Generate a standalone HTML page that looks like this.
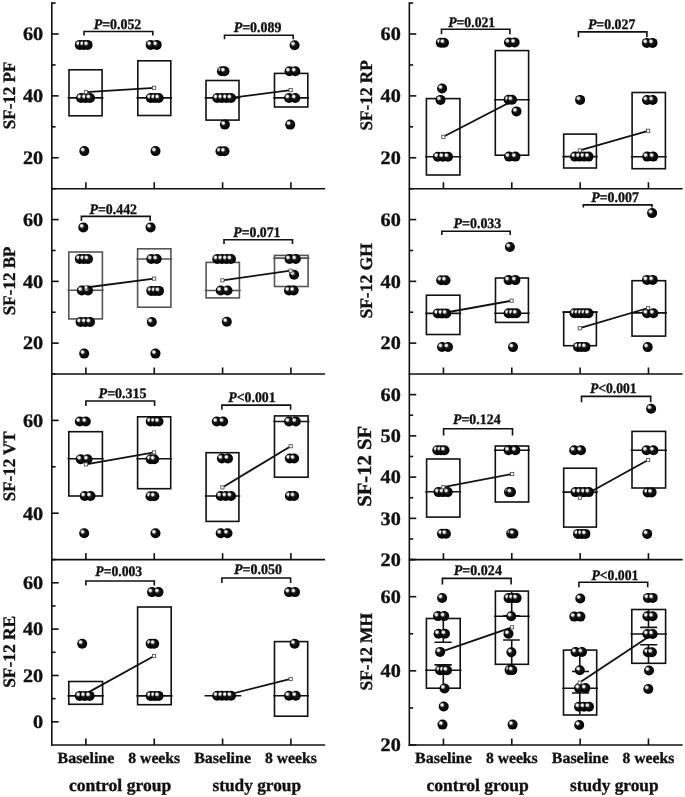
<!DOCTYPE html>
<html><head><meta charset="utf-8"><style>
html,body{margin:0;padding:0;background:#fff;}
svg{display:block;will-change:transform;filter:blur(0.35px);}
text{font-family:"Liberation Serif",serif;font-weight:bold;fill:#111;stroke:#111;stroke-width:0.35px;text-rendering:geometricPrecision;}
</style></head><body>
<svg width="685" height="797" viewBox="0 0 685 797">
<defs>
<radialGradient id="g" cx="0.5" cy="0.5" r="0.5" fx="0.35" fy="0.35">
<stop offset="0" stop-color="#555"/>
<stop offset="0.5" stop-color="#111"/>
<stop offset="1" stop-color="#000"/>
</radialGradient>
<radialGradient id="h" cx="0.5" cy="0.5" r="0.5">
<stop offset="0" stop-color="#fff" stop-opacity="1"/>
<stop offset="0.35" stop-color="#fff" stop-opacity="0.95"/>
<stop offset="1" stop-color="#fff" stop-opacity="0"/>
</radialGradient>
</defs>
<rect width="685" height="797" fill="#fff"/>
<g stroke="#111" stroke-width="1.6" fill="none" stroke-linecap="butt">
<line x1="51.10" y1="188.70" x2="325.10" y2="188.70"/>
<line x1="85.90" y1="188.70" x2="85.90" y2="182.20"/>
<line x1="154.25" y1="188.70" x2="154.25" y2="182.20"/>
<line x1="222.60" y1="188.70" x2="222.60" y2="182.20"/>
<line x1="290.90" y1="188.70" x2="290.90" y2="182.20"/>
<line x1="51.80" y1="157.76" x2="58.70" y2="157.76"/>
<text x="43.20" y="164.06" font-size="19" text-anchor="end" textLength="20.2" lengthAdjust="spacingAndGlyphs" style="">20</text>
<line x1="51.80" y1="95.88" x2="58.70" y2="95.88"/>
<text x="43.20" y="102.18" font-size="19" text-anchor="end" textLength="20.2" lengthAdjust="spacingAndGlyphs" style="">40</text>
<line x1="51.80" y1="34.01" x2="58.70" y2="34.01"/>
<text x="43.20" y="40.31" font-size="19" text-anchor="end" textLength="20.2" lengthAdjust="spacingAndGlyphs" style="">60</text>
<line x1="51.80" y1="126.82" x2="55.60" y2="126.82"/>
<line x1="51.80" y1="64.95" x2="55.60" y2="64.95"/>
<line x1="51.80" y1="3.07" x2="55.60" y2="3.07"/>
<text transform="translate(15.10,95.38) rotate(-90)" font-size="17.5" text-anchor="middle" textLength="67.5" lengthAdjust="spacingAndGlyphs">SF-12 PF</text>
<line x1="51.10" y1="374.00" x2="325.10" y2="374.00"/>
<line x1="85.90" y1="374.00" x2="85.90" y2="367.50"/>
<line x1="154.25" y1="374.00" x2="154.25" y2="367.50"/>
<line x1="222.60" y1="374.00" x2="222.60" y2="367.50"/>
<line x1="290.90" y1="374.00" x2="290.90" y2="367.50"/>
<line x1="51.80" y1="343.12" x2="58.70" y2="343.12"/>
<text x="43.20" y="349.42" font-size="19" text-anchor="end" textLength="20.2" lengthAdjust="spacingAndGlyphs" style="">20</text>
<line x1="51.80" y1="281.35" x2="58.70" y2="281.35"/>
<text x="43.20" y="287.65" font-size="19" text-anchor="end" textLength="20.2" lengthAdjust="spacingAndGlyphs" style="">40</text>
<line x1="51.80" y1="219.58" x2="58.70" y2="219.58"/>
<text x="43.20" y="225.88" font-size="19" text-anchor="end" textLength="20.2" lengthAdjust="spacingAndGlyphs" style="">60</text>
<line x1="51.80" y1="312.23" x2="55.60" y2="312.23"/>
<line x1="51.80" y1="250.47" x2="55.60" y2="250.47"/>
<line x1="51.80" y1="188.70" x2="55.60" y2="188.70"/>
<text transform="translate(15.10,280.85) rotate(-90)" font-size="17.5" text-anchor="middle" textLength="68.7" lengthAdjust="spacingAndGlyphs">SF-12 BP</text>
<line x1="51.10" y1="559.60" x2="325.10" y2="559.60"/>
<line x1="85.90" y1="559.60" x2="85.90" y2="553.10"/>
<line x1="154.25" y1="559.60" x2="154.25" y2="553.10"/>
<line x1="222.60" y1="559.60" x2="222.60" y2="553.10"/>
<line x1="290.90" y1="559.60" x2="290.90" y2="553.10"/>
<line x1="51.80" y1="513.20" x2="58.70" y2="513.20"/>
<text x="43.20" y="519.50" font-size="19" text-anchor="end" textLength="20.2" lengthAdjust="spacingAndGlyphs" style="">40</text>
<line x1="51.80" y1="420.40" x2="58.70" y2="420.40"/>
<text x="43.20" y="426.70" font-size="19" text-anchor="end" textLength="20.2" lengthAdjust="spacingAndGlyphs" style="">60</text>
<line x1="51.80" y1="466.80" x2="55.60" y2="466.80"/>
<line x1="51.80" y1="374.00" x2="55.60" y2="374.00"/>
<text transform="translate(15.10,466.30) rotate(-90)" font-size="17.5" text-anchor="middle" textLength="69.7" lengthAdjust="spacingAndGlyphs">SF-12 VT</text>
<line x1="51.10" y1="745.00" x2="325.10" y2="745.00"/>
<line x1="85.90" y1="745.00" x2="85.90" y2="738.50"/>
<line x1="154.25" y1="745.00" x2="154.25" y2="738.50"/>
<line x1="222.60" y1="745.00" x2="222.60" y2="738.50"/>
<line x1="290.90" y1="745.00" x2="290.90" y2="738.50"/>
<line x1="51.80" y1="721.83" x2="58.70" y2="721.83"/>
<text x="43.20" y="728.12" font-size="19" text-anchor="end" textLength="10.1" lengthAdjust="spacingAndGlyphs" style="">0</text>
<line x1="51.80" y1="675.48" x2="58.70" y2="675.48"/>
<text x="43.20" y="681.77" font-size="19" text-anchor="end" textLength="20.2" lengthAdjust="spacingAndGlyphs" style="">20</text>
<line x1="51.80" y1="629.12" x2="58.70" y2="629.12"/>
<text x="43.20" y="635.42" font-size="19" text-anchor="end" textLength="20.2" lengthAdjust="spacingAndGlyphs" style="">40</text>
<line x1="51.80" y1="582.77" x2="58.70" y2="582.77"/>
<text x="43.20" y="589.07" font-size="19" text-anchor="end" textLength="20.2" lengthAdjust="spacingAndGlyphs" style="">60</text>
<line x1="51.80" y1="698.65" x2="55.60" y2="698.65"/>
<line x1="51.80" y1="652.30" x2="55.60" y2="652.30"/>
<line x1="51.80" y1="605.95" x2="55.60" y2="605.95"/>
<line x1="51.80" y1="559.60" x2="55.60" y2="559.60"/>
<text transform="translate(15.10,651.80) rotate(-90)" font-size="17.5" text-anchor="middle" textLength="72.0" lengthAdjust="spacingAndGlyphs">SF-12 RE</text>
<line x1="408.65" y1="188.70" x2="682.65" y2="188.70"/>
<line x1="443.45" y1="188.70" x2="443.45" y2="182.20"/>
<line x1="511.80" y1="188.70" x2="511.80" y2="182.20"/>
<line x1="580.15" y1="188.70" x2="580.15" y2="182.20"/>
<line x1="648.45" y1="188.70" x2="648.45" y2="182.20"/>
<line x1="409.35" y1="157.76" x2="416.25" y2="157.76"/>
<text x="400.75" y="164.06" font-size="19" text-anchor="end" textLength="20.2" lengthAdjust="spacingAndGlyphs" style="">20</text>
<line x1="409.35" y1="95.88" x2="416.25" y2="95.88"/>
<text x="400.75" y="102.18" font-size="19" text-anchor="end" textLength="20.2" lengthAdjust="spacingAndGlyphs" style="">40</text>
<line x1="409.35" y1="34.01" x2="416.25" y2="34.01"/>
<text x="400.75" y="40.31" font-size="19" text-anchor="end" textLength="20.2" lengthAdjust="spacingAndGlyphs" style="">60</text>
<line x1="409.35" y1="126.82" x2="413.15" y2="126.82"/>
<line x1="409.35" y1="64.95" x2="413.15" y2="64.95"/>
<line x1="409.35" y1="3.07" x2="413.15" y2="3.07"/>
<text transform="translate(372.35,95.38) rotate(-90)" font-size="17.5" text-anchor="middle" textLength="70.2" lengthAdjust="spacingAndGlyphs">SF-12 RP</text>
<line x1="408.65" y1="374.00" x2="682.65" y2="374.00"/>
<line x1="443.45" y1="374.00" x2="443.45" y2="367.50"/>
<line x1="511.80" y1="374.00" x2="511.80" y2="367.50"/>
<line x1="580.15" y1="374.00" x2="580.15" y2="367.50"/>
<line x1="648.45" y1="374.00" x2="648.45" y2="367.50"/>
<line x1="409.35" y1="343.12" x2="416.25" y2="343.12"/>
<text x="400.75" y="349.42" font-size="19" text-anchor="end" textLength="20.2" lengthAdjust="spacingAndGlyphs" style="">20</text>
<line x1="409.35" y1="281.35" x2="416.25" y2="281.35"/>
<text x="400.75" y="287.65" font-size="19" text-anchor="end" textLength="20.2" lengthAdjust="spacingAndGlyphs" style="">40</text>
<line x1="409.35" y1="219.58" x2="416.25" y2="219.58"/>
<text x="400.75" y="225.88" font-size="19" text-anchor="end" textLength="20.2" lengthAdjust="spacingAndGlyphs" style="">60</text>
<line x1="409.35" y1="312.23" x2="413.15" y2="312.23"/>
<line x1="409.35" y1="250.47" x2="413.15" y2="250.47"/>
<line x1="409.35" y1="188.70" x2="413.15" y2="188.70"/>
<text transform="translate(372.35,280.85) rotate(-90)" font-size="17.5" text-anchor="middle" textLength="75.5" lengthAdjust="spacingAndGlyphs">SF-12 GH</text>
<line x1="408.65" y1="559.60" x2="682.65" y2="559.60"/>
<line x1="443.45" y1="559.60" x2="443.45" y2="553.10"/>
<line x1="511.80" y1="559.60" x2="511.80" y2="553.10"/>
<line x1="580.15" y1="559.60" x2="580.15" y2="553.10"/>
<line x1="648.45" y1="559.60" x2="648.45" y2="553.10"/>
<line x1="409.35" y1="559.60" x2="416.25" y2="559.60"/>
<text x="400.75" y="565.90" font-size="19" text-anchor="end" textLength="20.2" lengthAdjust="spacingAndGlyphs" style="">20</text>
<line x1="409.35" y1="518.36" x2="416.25" y2="518.36"/>
<text x="400.75" y="524.66" font-size="19" text-anchor="end" textLength="20.2" lengthAdjust="spacingAndGlyphs" style="">30</text>
<line x1="409.35" y1="477.11" x2="416.25" y2="477.11"/>
<text x="400.75" y="483.41" font-size="19" text-anchor="end" textLength="20.2" lengthAdjust="spacingAndGlyphs" style="">40</text>
<line x1="409.35" y1="435.87" x2="416.25" y2="435.87"/>
<text x="400.75" y="442.17" font-size="19" text-anchor="end" textLength="20.2" lengthAdjust="spacingAndGlyphs" style="">50</text>
<line x1="409.35" y1="394.62" x2="416.25" y2="394.62"/>
<text x="400.75" y="400.92" font-size="19" text-anchor="end" textLength="20.2" lengthAdjust="spacingAndGlyphs" style="">60</text>
<line x1="409.35" y1="538.98" x2="413.15" y2="538.98"/>
<line x1="409.35" y1="497.73" x2="413.15" y2="497.73"/>
<line x1="409.35" y1="456.49" x2="413.15" y2="456.49"/>
<line x1="409.35" y1="415.24" x2="413.15" y2="415.24"/>
<text transform="translate(370.85,466.30) rotate(-90)" font-size="20" text-anchor="middle" textLength="81.0" lengthAdjust="spacingAndGlyphs">SF-12 SF</text>
<line x1="408.65" y1="745.00" x2="682.65" y2="745.00"/>
<line x1="443.45" y1="745.00" x2="443.45" y2="738.50"/>
<line x1="511.80" y1="745.00" x2="511.80" y2="738.50"/>
<line x1="580.15" y1="745.00" x2="580.15" y2="738.50"/>
<line x1="648.45" y1="745.00" x2="648.45" y2="738.50"/>
<line x1="409.35" y1="745.00" x2="416.25" y2="745.00"/>
<text x="400.75" y="751.30" font-size="19" text-anchor="end" textLength="20.2" lengthAdjust="spacingAndGlyphs" style="">20</text>
<line x1="409.35" y1="670.84" x2="416.25" y2="670.84"/>
<text x="400.75" y="677.14" font-size="19" text-anchor="end" textLength="20.2" lengthAdjust="spacingAndGlyphs" style="">40</text>
<line x1="409.35" y1="596.68" x2="416.25" y2="596.68"/>
<text x="400.75" y="602.98" font-size="19" text-anchor="end" textLength="20.2" lengthAdjust="spacingAndGlyphs" style="">60</text>
<line x1="409.35" y1="707.92" x2="413.15" y2="707.92"/>
<line x1="409.35" y1="633.76" x2="413.15" y2="633.76"/>
<line x1="409.35" y1="559.60" x2="413.15" y2="559.60"/>
<text transform="translate(372.35,651.80) rotate(-90)" font-size="17.5" text-anchor="middle" textLength="77.4" lengthAdjust="spacingAndGlyphs">SF-12 MH</text>
<line x1="51.80" y1="2.37" x2="51.80" y2="745.70"/>
<line x1="409.35" y1="2.37" x2="409.35" y2="745.70"/>
<text x="85.90" y="763.10" font-size="15.5" text-anchor="middle" textLength="56.8" lengthAdjust="spacingAndGlyphs" style="">Baseline</text>
<text x="154.25" y="763.10" font-size="15.5" text-anchor="middle" textLength="51.8" lengthAdjust="spacingAndGlyphs" style="">8 weeks</text>
<text x="222.60" y="763.10" font-size="15.5" text-anchor="middle" textLength="56.8" lengthAdjust="spacingAndGlyphs" style="">Baseline</text>
<text x="290.90" y="763.10" font-size="15.5" text-anchor="middle" textLength="51.8" lengthAdjust="spacingAndGlyphs" style="">8 weeks</text>
<text x="120.08" y="790.50" font-size="17.5" text-anchor="middle" textLength="102.3" lengthAdjust="spacingAndGlyphs" style="">control group</text>
<text x="256.75" y="790.50" font-size="17.5" text-anchor="middle" textLength="88.6" lengthAdjust="spacingAndGlyphs" style="">study group</text>
<text x="443.45" y="763.10" font-size="15.5" text-anchor="middle" textLength="56.8" lengthAdjust="spacingAndGlyphs" style="">Baseline</text>
<text x="511.80" y="763.10" font-size="15.5" text-anchor="middle" textLength="51.8" lengthAdjust="spacingAndGlyphs" style="">8 weeks</text>
<text x="580.15" y="763.10" font-size="15.5" text-anchor="middle" textLength="56.8" lengthAdjust="spacingAndGlyphs" style="">Baseline</text>
<text x="648.45" y="763.10" font-size="15.5" text-anchor="middle" textLength="51.8" lengthAdjust="spacingAndGlyphs" style="">8 weeks</text>
<text x="477.62" y="790.50" font-size="17.5" text-anchor="middle" textLength="102.3" lengthAdjust="spacingAndGlyphs" style="">control group</text>
<text x="614.30" y="790.50" font-size="17.5" text-anchor="middle" textLength="88.6" lengthAdjust="spacingAndGlyphs" style="">study group</text>
<rect x="69.00" y="69.80" width="33.10" height="46.00" stroke="#111"/>
<line x1="67.70" y1="97.90" x2="103.40" y2="97.90" stroke="#111"/>
<rect x="137.80" y="60.80" width="33.00" height="54.70" stroke="#111"/>
<line x1="136.50" y1="97.90" x2="172.10" y2="97.90" stroke="#111"/>
<rect x="206.00" y="80.50" width="33.00" height="39.60" stroke="#111"/>
<line x1="204.70" y1="97.90" x2="240.30" y2="97.90" stroke="#111"/>
<rect x="274.50" y="73.40" width="33.30" height="33.60" stroke="#111"/>
<line x1="273.20" y1="97.90" x2="309.10" y2="97.90" stroke="#111"/>
<rect x="68.80" y="252.00" width="33.60" height="66.90" stroke="#555"/>
<line x1="67.50" y1="290.20" x2="103.70" y2="290.20" stroke="#555"/>
<rect x="137.60" y="248.80" width="33.30" height="58.40" stroke="#555"/>
<line x1="136.30" y1="259.00" x2="172.20" y2="259.00" stroke="#555"/>
<rect x="206.10" y="262.40" width="33.30" height="35.50" stroke="#555"/>
<line x1="204.80" y1="290.50" x2="240.70" y2="290.50" stroke="#555"/>
<rect x="274.50" y="255.40" width="33.60" height="31.10" stroke="#555"/>
<line x1="273.20" y1="258.10" x2="309.40" y2="258.10" stroke="#555"/>
<rect x="68.80" y="431.70" width="33.60" height="64.30" stroke="#111"/>
<line x1="67.50" y1="458.80" x2="103.70" y2="458.80" stroke="#111"/>
<rect x="137.60" y="416.80" width="33.10" height="71.90" stroke="#111"/>
<line x1="136.30" y1="458.80" x2="172.00" y2="458.80" stroke="#111"/>
<rect x="206.10" y="452.70" width="32.80" height="68.70" stroke="#111"/>
<line x1="204.80" y1="496.00" x2="240.20" y2="496.00" stroke="#111"/>
<rect x="274.50" y="415.90" width="33.60" height="61.30" stroke="#111"/>
<line x1="273.20" y1="421.50" x2="309.40" y2="421.50" stroke="#111"/>
<rect x="68.80" y="681.50" width="33.80" height="22.80" stroke="#111"/>
<line x1="67.50" y1="695.90" x2="103.90" y2="695.90" stroke="#111"/>
<rect x="137.60" y="607.00" width="33.60" height="97.70" stroke="#111"/>
<line x1="136.30" y1="695.90" x2="172.50" y2="695.90" stroke="#111"/>
<line x1="204.60" y1="695.70" x2="241.30" y2="695.70" stroke="#111"/>
<rect x="274.50" y="641.60" width="33.20" height="74.60" stroke="#111"/>
<line x1="273.20" y1="695.70" x2="309.00" y2="695.70" stroke="#111"/>
<rect x="426.40" y="98.60" width="33.50" height="76.40" stroke="#111"/>
<line x1="425.10" y1="156.70" x2="461.20" y2="156.70" stroke="#111"/>
<rect x="495.30" y="50.60" width="33.30" height="104.60" stroke="#111"/>
<line x1="494.00" y1="99.80" x2="529.90" y2="99.80" stroke="#111"/>
<rect x="563.70" y="134.10" width="32.70" height="33.90" stroke="#111"/>
<line x1="562.40" y1="156.60" x2="597.70" y2="156.60" stroke="#111"/>
<rect x="632.10" y="92.50" width="33.30" height="76.20" stroke="#111"/>
<line x1="630.80" y1="156.70" x2="666.70" y2="156.70" stroke="#111"/>
<rect x="426.40" y="295.20" width="33.50" height="39.30" stroke="#111"/>
<line x1="425.10" y1="313.40" x2="461.20" y2="313.40" stroke="#111"/>
<rect x="495.50" y="278.00" width="32.90" height="44.40" stroke="#111"/>
<line x1="494.20" y1="313.30" x2="529.70" y2="313.30" stroke="#111"/>
<rect x="563.70" y="312.10" width="32.70" height="33.60" stroke="#111"/>
<line x1="562.40" y1="312.10" x2="597.70" y2="312.10" stroke="#111"/>
<rect x="632.00" y="280.70" width="33.60" height="55.40" stroke="#111"/>
<line x1="630.70" y1="312.90" x2="666.90" y2="312.90" stroke="#111"/>
<rect x="426.60" y="459.00" width="33.30" height="58.10" stroke="#111"/>
<line x1="425.30" y1="491.80" x2="461.20" y2="491.80" stroke="#111"/>
<rect x="495.30" y="446.00" width="33.30" height="56.00" stroke="#111"/>
<line x1="494.00" y1="450.30" x2="529.90" y2="450.30" stroke="#111"/>
<rect x="563.70" y="468.20" width="32.70" height="58.90" stroke="#111"/>
<line x1="562.40" y1="492.10" x2="597.70" y2="492.10" stroke="#111"/>
<rect x="632.00" y="431.40" width="33.60" height="56.60" stroke="#111"/>
<line x1="630.70" y1="450.30" x2="666.90" y2="450.30" stroke="#111"/>
<rect x="426.40" y="618.50" width="33.80" height="69.70" stroke="#111"/>
<line x1="425.10" y1="670.30" x2="461.50" y2="670.30" stroke="#111"/>
<rect x="495.40" y="591.10" width="33.00" height="73.20" stroke="#111"/>
<line x1="494.10" y1="616.20" x2="529.70" y2="616.20" stroke="#111"/>
<rect x="563.50" y="650.10" width="33.20" height="64.90" stroke="#111"/>
<line x1="562.20" y1="688.30" x2="598.00" y2="688.30" stroke="#111"/>
<rect x="631.80" y="609.50" width="33.80" height="53.80" stroke="#111"/>
<line x1="630.50" y1="634.00" x2="666.90" y2="634.00" stroke="#111"/>
<path d="M443.30 618.50V642.20M434.50 642.20H451.70M434.50 664.90H451.70M443.30 664.90V688.20"/>
<path d="M511.70 591.10V615.80M503.10 615.80H519.80M503.10 640.00H519.80M511.70 640.00V664.30"/>
<path d="M579.80 650.10V671.50M572.00 671.50H589.00M572.00 693.00H589.00M579.80 693.00V715.00"/>
<path d="M648.50 609.50V627.40M640.20 627.40H657.20M640.20 644.80H657.20M648.50 644.80V663.30"/>
<line x1="85.90" y1="92.20" x2="154.10" y2="87.80" stroke-width="1.8"/>
<line x1="223.00" y1="98.80" x2="290.70" y2="90.10" stroke-width="1.8"/>
<line x1="86.00" y1="287.50" x2="154.10" y2="278.60" stroke-width="1.8"/>
<line x1="222.40" y1="280.30" x2="290.60" y2="270.70" stroke-width="1.8"/>
<line x1="85.90" y1="464.40" x2="154.10" y2="452.40" stroke-width="1.8"/>
<line x1="222.40" y1="487.40" x2="290.70" y2="446.20" stroke-width="1.8"/>
<line x1="86.00" y1="693.60" x2="154.10" y2="656.00" stroke-width="1.8"/>
<line x1="222.80" y1="696.00" x2="290.70" y2="678.90" stroke-width="1.8"/>
<line x1="443.30" y1="136.80" x2="511.60" y2="101.50" stroke-width="1.8"/>
<line x1="579.80" y1="150.40" x2="648.10" y2="130.80" stroke-width="1.8"/>
<line x1="443.20" y1="313.00" x2="511.60" y2="300.70" stroke-width="1.8"/>
<line x1="579.80" y1="328.20" x2="648.10" y2="308.00" stroke-width="1.8"/>
<line x1="443.30" y1="487.20" x2="512.10" y2="474.00" stroke-width="1.8"/>
<line x1="579.80" y1="497.70" x2="648.10" y2="460.00" stroke-width="1.8"/>
<line x1="441.50" y1="651.70" x2="512.00" y2="627.30" stroke-width="1.8"/>
<line x1="579.70" y1="682.60" x2="648.30" y2="637.00" stroke-width="1.8"/>
<polyline points="84.00,35.60 84.00,31.50 152.80,31.50 152.80,35.60"/>
<polyline points="224.50,39.20 224.50,35.30 293.20,35.30 293.20,39.20"/>
<polyline points="81.40,220.90 81.40,216.40 150.20,216.40 150.20,220.90"/>
<polyline points="224.00,244.10 224.00,239.70 292.50,239.70 292.50,244.10"/>
<polyline points="85.90,405.90 85.90,401.00 154.60,401.00 154.60,405.90"/>
<polyline points="221.90,409.80 221.90,405.10 290.60,405.10 290.60,409.80"/>
<polyline points="85.90,585.40 85.90,581.00 154.30,581.00 154.30,585.40"/>
<polyline points="221.90,583.10 221.90,578.00 290.60,578.00 290.60,583.10"/>
<polyline points="441.50,34.20 441.50,29.30 509.90,29.30 509.90,34.20"/>
<polyline points="578.40,37.20 578.40,31.90 646.90,31.90 646.90,37.20"/>
<polyline points="441.80,235.00 441.80,231.20 510.20,231.20 510.20,235.00"/>
<polyline points="583.30,207.60 583.30,204.90 652.00,204.90 652.00,207.60"/>
<polyline points="443.60,435.40 443.60,428.80 512.50,428.80 512.50,435.40"/>
<polyline points="581.50,402.20 581.50,396.40 650.70,396.40 650.70,402.20"/>
<polyline points="442.40,584.50 442.40,578.40 511.10,578.40 511.10,584.50"/>
<polyline points="578.90,587.20 578.90,582.30 647.70,582.30 647.70,587.20"/>
<text x="93.70" y="28.70" font-size="14.5" textLength="47.60" lengthAdjust="spacingAndGlyphs"><tspan style="font-style:italic">P</tspan>=0.052</text>
<text x="233.70" y="32.30" font-size="14.5" textLength="47.70" lengthAdjust="spacingAndGlyphs"><tspan style="font-style:italic">P</tspan>=0.089</text>
<text x="89.50" y="213.90" font-size="14.5" textLength="47.50" lengthAdjust="spacingAndGlyphs"><tspan style="font-style:italic">P</tspan>=0.442</text>
<text x="233.30" y="236.50" font-size="14.5" textLength="47.20" lengthAdjust="spacingAndGlyphs"><tspan style="font-style:italic">P</tspan>=0.071</text>
<text x="98.60" y="397.90" font-size="14.5" textLength="48.00" lengthAdjust="spacingAndGlyphs"><tspan style="font-style:italic">P</tspan>=0.315</text>
<text x="228.30" y="402.40" font-size="14.5" textLength="47.30" lengthAdjust="spacingAndGlyphs"><tspan style="font-style:italic">P</tspan>&lt;0.001</text>
<text x="95.30" y="576.30" font-size="14.5" textLength="46.90" lengthAdjust="spacingAndGlyphs"><tspan style="font-style:italic">P</tspan>=0.003</text>
<text x="233.90" y="574.40" font-size="14.5" textLength="48.00" lengthAdjust="spacingAndGlyphs"><tspan style="font-style:italic">P</tspan>=0.050</text>
<text x="448.20" y="27.00" font-size="14.5" textLength="47.00" lengthAdjust="spacingAndGlyphs"><tspan style="font-style:italic">P</tspan>=0.021</text>
<text x="587.90" y="28.90" font-size="14.5" textLength="47.50" lengthAdjust="spacingAndGlyphs"><tspan style="font-style:italic">P</tspan>=0.027</text>
<text x="453.50" y="227.50" font-size="14.5" textLength="47.80" lengthAdjust="spacingAndGlyphs"><tspan style="font-style:italic">P</tspan>=0.033</text>
<text x="591.20" y="202.30" font-size="14.5" textLength="47.70" lengthAdjust="spacingAndGlyphs"><tspan style="font-style:italic">P</tspan>=0.007</text>
<text x="453.00" y="424.40" font-size="14.5" textLength="47.60" lengthAdjust="spacingAndGlyphs"><tspan style="font-style:italic">P</tspan>=0.124</text>
<text x="590.00" y="392.50" font-size="14.5" textLength="46.60" lengthAdjust="spacingAndGlyphs"><tspan style="font-style:italic">P</tspan>&lt;0.001</text>
<text x="453.80" y="575.40" font-size="14.5" textLength="48.10" lengthAdjust="spacingAndGlyphs"><tspan style="font-style:italic">P</tspan>=0.024</text>
<text x="591.40" y="580.10" font-size="14.5" textLength="47.00" lengthAdjust="spacingAndGlyphs"><tspan style="font-style:italic">P</tspan>&lt;0.001</text>
<g transform="translate(509.00 42.40)" stroke="none"><circle r="5" fill="url(#g)"/><circle cx="-1.7" cy="-1.6" r="2.5" fill="url(#h)"/></g>
<g transform="translate(514.60 42.40)" stroke="none"><circle r="5" fill="url(#g)"/><circle cx="-1.7" cy="-1.6" r="2.5" fill="url(#h)"/></g>
<g transform="translate(440.80 42.70)" stroke="none"><circle r="5" fill="url(#g)"/><circle cx="-1.7" cy="-1.6" r="2.5" fill="url(#h)"/></g>
<g transform="translate(444.00 42.70)" stroke="none"><circle r="5" fill="url(#g)"/><circle cx="-1.7" cy="-1.6" r="2.5" fill="url(#h)"/></g>
<g transform="translate(646.90 42.90)" stroke="none"><circle r="5" fill="url(#g)"/><circle cx="-1.7" cy="-1.6" r="2.5" fill="url(#h)"/></g>
<g transform="translate(652.50 42.90)" stroke="none"><circle r="5" fill="url(#g)"/><circle cx="-1.7" cy="-1.6" r="2.5" fill="url(#h)"/></g>
<g transform="translate(79.80 44.90)" stroke="none"><circle r="5" fill="url(#g)"/><circle cx="-1.7" cy="-1.6" r="2.5" fill="url(#h)"/></g>
<g transform="translate(83.70 44.90)" stroke="none"><circle r="5" fill="url(#g)"/><circle cx="-1.7" cy="-1.6" r="2.5" fill="url(#h)"/></g>
<g transform="translate(87.60 44.90)" stroke="none"><circle r="5" fill="url(#g)"/><circle cx="-1.7" cy="-1.6" r="2.5" fill="url(#h)"/></g>
<g transform="translate(150.70 44.90)" stroke="none"><circle r="5" fill="url(#g)"/><circle cx="-1.7" cy="-1.6" r="2.5" fill="url(#h)"/></g>
<g transform="translate(156.70 44.90)" stroke="none"><circle r="5" fill="url(#g)"/><circle cx="-1.7" cy="-1.6" r="2.5" fill="url(#h)"/></g>
<g transform="translate(294.60 45.20)" stroke="none"><circle r="5" fill="url(#g)"/><circle cx="-1.7" cy="-1.6" r="2.5" fill="url(#h)"/></g>
<g transform="translate(221.90 71.20)" stroke="none"><circle r="5" fill="url(#g)"/><circle cx="-1.7" cy="-1.6" r="2.5" fill="url(#h)"/></g>
<g transform="translate(224.50 71.20)" stroke="none"><circle r="5" fill="url(#g)"/><circle cx="-1.7" cy="-1.6" r="2.5" fill="url(#h)"/></g>
<g transform="translate(289.50 71.20)" stroke="none"><circle r="5" fill="url(#g)"/><circle cx="-1.7" cy="-1.6" r="2.5" fill="url(#h)"/></g>
<g transform="translate(295.30 71.20)" stroke="none"><circle r="5" fill="url(#g)"/><circle cx="-1.7" cy="-1.6" r="2.5" fill="url(#h)"/></g>
<g transform="translate(442.10 88.50)" stroke="none"><circle r="5" fill="url(#g)"/><circle cx="-1.7" cy="-1.6" r="2.5" fill="url(#h)"/></g>
<g transform="translate(81.00 98.00)" stroke="none"><circle r="5" fill="url(#g)"/><circle cx="-1.7" cy="-1.6" r="2.5" fill="url(#h)"/></g>
<g transform="translate(85.50 98.00)" stroke="none"><circle r="5" fill="url(#g)"/><circle cx="-1.7" cy="-1.6" r="2.5" fill="url(#h)"/></g>
<g transform="translate(90.00 98.00)" stroke="none"><circle r="5" fill="url(#g)"/><circle cx="-1.7" cy="-1.6" r="2.5" fill="url(#h)"/></g>
<g transform="translate(150.70 98.00)" stroke="none"><circle r="5" fill="url(#g)"/><circle cx="-1.7" cy="-1.6" r="2.5" fill="url(#h)"/></g>
<g transform="translate(154.70 98.00)" stroke="none"><circle r="5" fill="url(#g)"/><circle cx="-1.7" cy="-1.6" r="2.5" fill="url(#h)"/></g>
<g transform="translate(158.70 98.00)" stroke="none"><circle r="5" fill="url(#g)"/><circle cx="-1.7" cy="-1.6" r="2.5" fill="url(#h)"/></g>
<g transform="translate(217.20 98.00)" stroke="none"><circle r="5" fill="url(#g)"/><circle cx="-1.7" cy="-1.6" r="2.5" fill="url(#h)"/></g>
<g transform="translate(221.80 98.00)" stroke="none"><circle r="5" fill="url(#g)"/><circle cx="-1.7" cy="-1.6" r="2.5" fill="url(#h)"/></g>
<g transform="translate(226.40 98.00)" stroke="none"><circle r="5" fill="url(#g)"/><circle cx="-1.7" cy="-1.6" r="2.5" fill="url(#h)"/></g>
<g transform="translate(231.00 98.00)" stroke="none"><circle r="5" fill="url(#g)"/><circle cx="-1.7" cy="-1.6" r="2.5" fill="url(#h)"/></g>
<g transform="translate(289.00 98.00)" stroke="none"><circle r="5" fill="url(#g)"/><circle cx="-1.7" cy="-1.6" r="2.5" fill="url(#h)"/></g>
<g transform="translate(295.30 98.00)" stroke="none"><circle r="5" fill="url(#g)"/><circle cx="-1.7" cy="-1.6" r="2.5" fill="url(#h)"/></g>
<g transform="translate(508.60 99.80)" stroke="none"><circle r="5" fill="url(#g)"/><circle cx="-1.7" cy="-1.6" r="2.5" fill="url(#h)"/></g>
<g transform="translate(512.00 99.80)" stroke="none"><circle r="5" fill="url(#g)"/><circle cx="-1.7" cy="-1.6" r="2.5" fill="url(#h)"/></g>
<g transform="translate(440.50 99.90)" stroke="none"><circle r="5" fill="url(#g)"/><circle cx="-1.7" cy="-1.6" r="2.5" fill="url(#h)"/></g>
<g transform="translate(580.10 99.90)" stroke="none"><circle r="5" fill="url(#g)"/><circle cx="-1.7" cy="-1.6" r="2.5" fill="url(#h)"/></g>
<g transform="translate(647.00 100.00)" stroke="none"><circle r="5" fill="url(#g)"/><circle cx="-1.7" cy="-1.6" r="2.5" fill="url(#h)"/></g>
<g transform="translate(652.70 100.00)" stroke="none"><circle r="5" fill="url(#g)"/><circle cx="-1.7" cy="-1.6" r="2.5" fill="url(#h)"/></g>
<g transform="translate(516.50 111.40)" stroke="none"><circle r="5" fill="url(#g)"/><circle cx="-1.7" cy="-1.6" r="2.5" fill="url(#h)"/></g>
<g transform="translate(224.90 124.60)" stroke="none"><circle r="5" fill="url(#g)"/><circle cx="-1.7" cy="-1.6" r="2.5" fill="url(#h)"/></g>
<g transform="translate(290.20 124.60)" stroke="none"><circle r="5" fill="url(#g)"/><circle cx="-1.7" cy="-1.6" r="2.5" fill="url(#h)"/></g>
<g transform="translate(84.30 151.10)" stroke="none"><circle r="5" fill="url(#g)"/><circle cx="-1.7" cy="-1.6" r="2.5" fill="url(#h)"/></g>
<g transform="translate(155.50 151.10)" stroke="none"><circle r="5" fill="url(#g)"/><circle cx="-1.7" cy="-1.6" r="2.5" fill="url(#h)"/></g>
<g transform="translate(220.50 151.30)" stroke="none"><circle r="5" fill="url(#g)"/><circle cx="-1.7" cy="-1.6" r="2.5" fill="url(#h)"/></g>
<g transform="translate(224.50 151.30)" stroke="none"><circle r="5" fill="url(#g)"/><circle cx="-1.7" cy="-1.6" r="2.5" fill="url(#h)"/></g>
<g transform="translate(509.00 156.60)" stroke="none"><circle r="5" fill="url(#g)"/><circle cx="-1.7" cy="-1.6" r="2.5" fill="url(#h)"/></g>
<g transform="translate(515.40 156.60)" stroke="none"><circle r="5" fill="url(#g)"/><circle cx="-1.7" cy="-1.6" r="2.5" fill="url(#h)"/></g>
<g transform="translate(575.00 156.60)" stroke="none"><circle r="5" fill="url(#g)"/><circle cx="-1.7" cy="-1.6" r="2.5" fill="url(#h)"/></g>
<g transform="translate(579.50 156.60)" stroke="none"><circle r="5" fill="url(#g)"/><circle cx="-1.7" cy="-1.6" r="2.5" fill="url(#h)"/></g>
<g transform="translate(584.00 156.60)" stroke="none"><circle r="5" fill="url(#g)"/><circle cx="-1.7" cy="-1.6" r="2.5" fill="url(#h)"/></g>
<g transform="translate(588.50 156.60)" stroke="none"><circle r="5" fill="url(#g)"/><circle cx="-1.7" cy="-1.6" r="2.5" fill="url(#h)"/></g>
<g transform="translate(647.20 156.60)" stroke="none"><circle r="5" fill="url(#g)"/><circle cx="-1.7" cy="-1.6" r="2.5" fill="url(#h)"/></g>
<g transform="translate(653.20 156.60)" stroke="none"><circle r="5" fill="url(#g)"/><circle cx="-1.7" cy="-1.6" r="2.5" fill="url(#h)"/></g>
<g transform="translate(437.80 156.70)" stroke="none"><circle r="5" fill="url(#g)"/><circle cx="-1.7" cy="-1.6" r="2.5" fill="url(#h)"/></g>
<g transform="translate(442.90 156.70)" stroke="none"><circle r="5" fill="url(#g)"/><circle cx="-1.7" cy="-1.6" r="2.5" fill="url(#h)"/></g>
<g transform="translate(448.00 156.70)" stroke="none"><circle r="5" fill="url(#g)"/><circle cx="-1.7" cy="-1.6" r="2.5" fill="url(#h)"/></g>
<g transform="translate(652.10 213.10)" stroke="none"><circle r="5" fill="url(#g)"/><circle cx="-1.7" cy="-1.6" r="2.5" fill="url(#h)"/></g>
<g transform="translate(83.30 227.40)" stroke="none"><circle r="5" fill="url(#g)"/><circle cx="-1.7" cy="-1.6" r="2.5" fill="url(#h)"/></g>
<g transform="translate(150.60 227.40)" stroke="none"><circle r="5" fill="url(#g)"/><circle cx="-1.7" cy="-1.6" r="2.5" fill="url(#h)"/></g>
<g transform="translate(509.90 247.00)" stroke="none"><circle r="5" fill="url(#g)"/><circle cx="-1.7" cy="-1.6" r="2.5" fill="url(#h)"/></g>
<g transform="translate(79.80 259.00)" stroke="none"><circle r="5" fill="url(#g)"/><circle cx="-1.7" cy="-1.6" r="2.5" fill="url(#h)"/></g>
<g transform="translate(83.90 259.00)" stroke="none"><circle r="5" fill="url(#g)"/><circle cx="-1.7" cy="-1.6" r="2.5" fill="url(#h)"/></g>
<g transform="translate(88.00 259.00)" stroke="none"><circle r="5" fill="url(#g)"/><circle cx="-1.7" cy="-1.6" r="2.5" fill="url(#h)"/></g>
<g transform="translate(151.30 259.00)" stroke="none"><circle r="5" fill="url(#g)"/><circle cx="-1.7" cy="-1.6" r="2.5" fill="url(#h)"/></g>
<g transform="translate(156.70 259.00)" stroke="none"><circle r="5" fill="url(#g)"/><circle cx="-1.7" cy="-1.6" r="2.5" fill="url(#h)"/></g>
<g transform="translate(217.20 259.00)" stroke="none"><circle r="5" fill="url(#g)"/><circle cx="-1.7" cy="-1.6" r="2.5" fill="url(#h)"/></g>
<g transform="translate(221.80 259.00)" stroke="none"><circle r="5" fill="url(#g)"/><circle cx="-1.7" cy="-1.6" r="2.5" fill="url(#h)"/></g>
<g transform="translate(226.40 259.00)" stroke="none"><circle r="5" fill="url(#g)"/><circle cx="-1.7" cy="-1.6" r="2.5" fill="url(#h)"/></g>
<g transform="translate(231.00 259.00)" stroke="none"><circle r="5" fill="url(#g)"/><circle cx="-1.7" cy="-1.6" r="2.5" fill="url(#h)"/></g>
<g transform="translate(289.50 259.00)" stroke="none"><circle r="5" fill="url(#g)"/><circle cx="-1.7" cy="-1.6" r="2.5" fill="url(#h)"/></g>
<g transform="translate(295.80 259.00)" stroke="none"><circle r="5" fill="url(#g)"/><circle cx="-1.7" cy="-1.6" r="2.5" fill="url(#h)"/></g>
<g transform="translate(294.10 274.70)" stroke="none"><circle r="5" fill="url(#g)"/><circle cx="-1.7" cy="-1.6" r="2.5" fill="url(#h)"/></g>
<g transform="translate(647.00 279.90)" stroke="none"><circle r="5" fill="url(#g)"/><circle cx="-1.7" cy="-1.6" r="2.5" fill="url(#h)"/></g>
<g transform="translate(652.70 279.90)" stroke="none"><circle r="5" fill="url(#g)"/><circle cx="-1.7" cy="-1.6" r="2.5" fill="url(#h)"/></g>
<g transform="translate(508.60 280.10)" stroke="none"><circle r="5" fill="url(#g)"/><circle cx="-1.7" cy="-1.6" r="2.5" fill="url(#h)"/></g>
<g transform="translate(515.40 280.10)" stroke="none"><circle r="5" fill="url(#g)"/><circle cx="-1.7" cy="-1.6" r="2.5" fill="url(#h)"/></g>
<g transform="translate(441.20 280.20)" stroke="none"><circle r="5" fill="url(#g)"/><circle cx="-1.7" cy="-1.6" r="2.5" fill="url(#h)"/></g>
<g transform="translate(445.50 280.20)" stroke="none"><circle r="5" fill="url(#g)"/><circle cx="-1.7" cy="-1.6" r="2.5" fill="url(#h)"/></g>
<g transform="translate(81.80 290.50)" stroke="none"><circle r="5" fill="url(#g)"/><circle cx="-1.7" cy="-1.6" r="2.5" fill="url(#h)"/></g>
<g transform="translate(88.00 290.50)" stroke="none"><circle r="5" fill="url(#g)"/><circle cx="-1.7" cy="-1.6" r="2.5" fill="url(#h)"/></g>
<g transform="translate(220.70 290.50)" stroke="none"><circle r="5" fill="url(#g)"/><circle cx="-1.7" cy="-1.6" r="2.5" fill="url(#h)"/></g>
<g transform="translate(227.50 290.50)" stroke="none"><circle r="5" fill="url(#g)"/><circle cx="-1.7" cy="-1.6" r="2.5" fill="url(#h)"/></g>
<g transform="translate(289.00 290.50)" stroke="none"><circle r="5" fill="url(#g)"/><circle cx="-1.7" cy="-1.6" r="2.5" fill="url(#h)"/></g>
<g transform="translate(293.70 290.50)" stroke="none"><circle r="5" fill="url(#g)"/><circle cx="-1.7" cy="-1.6" r="2.5" fill="url(#h)"/></g>
<g transform="translate(151.30 290.90)" stroke="none"><circle r="5" fill="url(#g)"/><circle cx="-1.7" cy="-1.6" r="2.5" fill="url(#h)"/></g>
<g transform="translate(155.15 290.90)" stroke="none"><circle r="5" fill="url(#g)"/><circle cx="-1.7" cy="-1.6" r="2.5" fill="url(#h)"/></g>
<g transform="translate(159.00 290.90)" stroke="none"><circle r="5" fill="url(#g)"/><circle cx="-1.7" cy="-1.6" r="2.5" fill="url(#h)"/></g>
<g transform="translate(508.60 313.30)" stroke="none"><circle r="5" fill="url(#g)"/><circle cx="-1.7" cy="-1.6" r="2.5" fill="url(#h)"/></g>
<g transform="translate(512.45 313.30)" stroke="none"><circle r="5" fill="url(#g)"/><circle cx="-1.7" cy="-1.6" r="2.5" fill="url(#h)"/></g>
<g transform="translate(516.30 313.30)" stroke="none"><circle r="5" fill="url(#g)"/><circle cx="-1.7" cy="-1.6" r="2.5" fill="url(#h)"/></g>
<g transform="translate(574.50 313.30)" stroke="none"><circle r="5" fill="url(#g)"/><circle cx="-1.7" cy="-1.6" r="2.5" fill="url(#h)"/></g>
<g transform="translate(578.00 313.30)" stroke="none"><circle r="5" fill="url(#g)"/><circle cx="-1.7" cy="-1.6" r="2.5" fill="url(#h)"/></g>
<g transform="translate(581.50 313.30)" stroke="none"><circle r="5" fill="url(#g)"/><circle cx="-1.7" cy="-1.6" r="2.5" fill="url(#h)"/></g>
<g transform="translate(585.00 313.30)" stroke="none"><circle r="5" fill="url(#g)"/><circle cx="-1.7" cy="-1.6" r="2.5" fill="url(#h)"/></g>
<g transform="translate(588.50 313.30)" stroke="none"><circle r="5" fill="url(#g)"/><circle cx="-1.7" cy="-1.6" r="2.5" fill="url(#h)"/></g>
<g transform="translate(647.00 313.30)" stroke="none"><circle r="5" fill="url(#g)"/><circle cx="-1.7" cy="-1.6" r="2.5" fill="url(#h)"/></g>
<g transform="translate(653.40 313.30)" stroke="none"><circle r="5" fill="url(#g)"/><circle cx="-1.7" cy="-1.6" r="2.5" fill="url(#h)"/></g>
<g transform="translate(437.80 313.40)" stroke="none"><circle r="5" fill="url(#g)"/><circle cx="-1.7" cy="-1.6" r="2.5" fill="url(#h)"/></g>
<g transform="translate(442.00 313.40)" stroke="none"><circle r="5" fill="url(#g)"/><circle cx="-1.7" cy="-1.6" r="2.5" fill="url(#h)"/></g>
<g transform="translate(446.20 313.40)" stroke="none"><circle r="5" fill="url(#g)"/><circle cx="-1.7" cy="-1.6" r="2.5" fill="url(#h)"/></g>
<g transform="translate(226.80 321.70)" stroke="none"><circle r="5" fill="url(#g)"/><circle cx="-1.7" cy="-1.6" r="2.5" fill="url(#h)"/></g>
<g transform="translate(80.60 322.00)" stroke="none"><circle r="5" fill="url(#g)"/><circle cx="-1.7" cy="-1.6" r="2.5" fill="url(#h)"/></g>
<g transform="translate(85.30 322.00)" stroke="none"><circle r="5" fill="url(#g)"/><circle cx="-1.7" cy="-1.6" r="2.5" fill="url(#h)"/></g>
<g transform="translate(90.00 322.00)" stroke="none"><circle r="5" fill="url(#g)"/><circle cx="-1.7" cy="-1.6" r="2.5" fill="url(#h)"/></g>
<g transform="translate(151.80 322.00)" stroke="none"><circle r="5" fill="url(#g)"/><circle cx="-1.7" cy="-1.6" r="2.5" fill="url(#h)"/></g>
<g transform="translate(578.00 346.90)" stroke="none"><circle r="5" fill="url(#g)"/><circle cx="-1.7" cy="-1.6" r="2.5" fill="url(#h)"/></g>
<g transform="translate(581.70 346.90)" stroke="none"><circle r="5" fill="url(#g)"/><circle cx="-1.7" cy="-1.6" r="2.5" fill="url(#h)"/></g>
<g transform="translate(585.40 346.90)" stroke="none"><circle r="5" fill="url(#g)"/><circle cx="-1.7" cy="-1.6" r="2.5" fill="url(#h)"/></g>
<g transform="translate(442.00 347.00)" stroke="none"><circle r="5" fill="url(#g)"/><circle cx="-1.7" cy="-1.6" r="2.5" fill="url(#h)"/></g>
<g transform="translate(448.00 347.00)" stroke="none"><circle r="5" fill="url(#g)"/><circle cx="-1.7" cy="-1.6" r="2.5" fill="url(#h)"/></g>
<g transform="translate(513.00 347.10)" stroke="none"><circle r="5" fill="url(#g)"/><circle cx="-1.7" cy="-1.6" r="2.5" fill="url(#h)"/></g>
<g transform="translate(647.70 347.10)" stroke="none"><circle r="5" fill="url(#g)"/><circle cx="-1.7" cy="-1.6" r="2.5" fill="url(#h)"/></g>
<g transform="translate(84.20 353.60)" stroke="none"><circle r="5" fill="url(#g)"/><circle cx="-1.7" cy="-1.6" r="2.5" fill="url(#h)"/></g>
<g transform="translate(155.50 353.60)" stroke="none"><circle r="5" fill="url(#g)"/><circle cx="-1.7" cy="-1.6" r="2.5" fill="url(#h)"/></g>
<g transform="translate(651.10 408.80)" stroke="none"><circle r="5" fill="url(#g)"/><circle cx="-1.7" cy="-1.6" r="2.5" fill="url(#h)"/></g>
<g transform="translate(79.80 421.50)" stroke="none"><circle r="5" fill="url(#g)"/><circle cx="-1.7" cy="-1.6" r="2.5" fill="url(#h)"/></g>
<g transform="translate(85.80 421.50)" stroke="none"><circle r="5" fill="url(#g)"/><circle cx="-1.7" cy="-1.6" r="2.5" fill="url(#h)"/></g>
<g transform="translate(150.70 421.50)" stroke="none"><circle r="5" fill="url(#g)"/><circle cx="-1.7" cy="-1.6" r="2.5" fill="url(#h)"/></g>
<g transform="translate(154.60 421.50)" stroke="none"><circle r="5" fill="url(#g)"/><circle cx="-1.7" cy="-1.6" r="2.5" fill="url(#h)"/></g>
<g transform="translate(158.50 421.50)" stroke="none"><circle r="5" fill="url(#g)"/><circle cx="-1.7" cy="-1.6" r="2.5" fill="url(#h)"/></g>
<g transform="translate(216.80 421.50)" stroke="none"><circle r="5" fill="url(#g)"/><circle cx="-1.7" cy="-1.6" r="2.5" fill="url(#h)"/></g>
<g transform="translate(223.10 421.50)" stroke="none"><circle r="5" fill="url(#g)"/><circle cx="-1.7" cy="-1.6" r="2.5" fill="url(#h)"/></g>
<g transform="translate(289.00 421.50)" stroke="none"><circle r="5" fill="url(#g)"/><circle cx="-1.7" cy="-1.6" r="2.5" fill="url(#h)"/></g>
<g transform="translate(295.80 421.50)" stroke="none"><circle r="5" fill="url(#g)"/><circle cx="-1.7" cy="-1.6" r="2.5" fill="url(#h)"/></g>
<g transform="translate(437.30 450.20)" stroke="none"><circle r="5" fill="url(#g)"/><circle cx="-1.7" cy="-1.6" r="2.5" fill="url(#h)"/></g>
<g transform="translate(440.90 450.20)" stroke="none"><circle r="5" fill="url(#g)"/><circle cx="-1.7" cy="-1.6" r="2.5" fill="url(#h)"/></g>
<g transform="translate(444.50 450.20)" stroke="none"><circle r="5" fill="url(#g)"/><circle cx="-1.7" cy="-1.6" r="2.5" fill="url(#h)"/></g>
<g transform="translate(508.60 450.30)" stroke="none"><circle r="5" fill="url(#g)"/><circle cx="-1.7" cy="-1.6" r="2.5" fill="url(#h)"/></g>
<g transform="translate(515.40 450.30)" stroke="none"><circle r="5" fill="url(#g)"/><circle cx="-1.7" cy="-1.6" r="2.5" fill="url(#h)"/></g>
<g transform="translate(574.20 450.30)" stroke="none"><circle r="5" fill="url(#g)"/><circle cx="-1.7" cy="-1.6" r="2.5" fill="url(#h)"/></g>
<g transform="translate(581.00 450.30)" stroke="none"><circle r="5" fill="url(#g)"/><circle cx="-1.7" cy="-1.6" r="2.5" fill="url(#h)"/></g>
<g transform="translate(646.50 450.30)" stroke="none"><circle r="5" fill="url(#g)"/><circle cx="-1.7" cy="-1.6" r="2.5" fill="url(#h)"/></g>
<g transform="translate(653.40 450.30)" stroke="none"><circle r="5" fill="url(#g)"/><circle cx="-1.7" cy="-1.6" r="2.5" fill="url(#h)"/></g>
<g transform="translate(221.90 458.50)" stroke="none"><circle r="5" fill="url(#g)"/><circle cx="-1.7" cy="-1.6" r="2.5" fill="url(#h)"/></g>
<g transform="translate(228.00 458.50)" stroke="none"><circle r="5" fill="url(#g)"/><circle cx="-1.7" cy="-1.6" r="2.5" fill="url(#h)"/></g>
<g transform="translate(289.90 458.50)" stroke="none"><circle r="5" fill="url(#g)"/><circle cx="-1.7" cy="-1.6" r="2.5" fill="url(#h)"/></g>
<g transform="translate(294.10 458.50)" stroke="none"><circle r="5" fill="url(#g)"/><circle cx="-1.7" cy="-1.6" r="2.5" fill="url(#h)"/></g>
<g transform="translate(80.70 459.20)" stroke="none"><circle r="5" fill="url(#g)"/><circle cx="-1.7" cy="-1.6" r="2.5" fill="url(#h)"/></g>
<g transform="translate(87.50 459.20)" stroke="none"><circle r="5" fill="url(#g)"/><circle cx="-1.7" cy="-1.6" r="2.5" fill="url(#h)"/></g>
<g transform="translate(150.70 459.20)" stroke="none"><circle r="5" fill="url(#g)"/><circle cx="-1.7" cy="-1.6" r="2.5" fill="url(#h)"/></g>
<g transform="translate(154.20 459.20)" stroke="none"><circle r="5" fill="url(#g)"/><circle cx="-1.7" cy="-1.6" r="2.5" fill="url(#h)"/></g>
<g transform="translate(438.50 492.10)" stroke="none"><circle r="5" fill="url(#g)"/><circle cx="-1.7" cy="-1.6" r="2.5" fill="url(#h)"/></g>
<g transform="translate(443.10 492.10)" stroke="none"><circle r="5" fill="url(#g)"/><circle cx="-1.7" cy="-1.6" r="2.5" fill="url(#h)"/></g>
<g transform="translate(447.70 492.10)" stroke="none"><circle r="5" fill="url(#g)"/><circle cx="-1.7" cy="-1.6" r="2.5" fill="url(#h)"/></g>
<g transform="translate(509.00 492.10)" stroke="none"><circle r="5" fill="url(#g)"/><circle cx="-1.7" cy="-1.6" r="2.5" fill="url(#h)"/></g>
<g transform="translate(511.00 492.10)" stroke="none"><circle r="5" fill="url(#g)"/><circle cx="-1.7" cy="-1.6" r="2.5" fill="url(#h)"/></g>
<g transform="translate(575.60 492.10)" stroke="none"><circle r="5" fill="url(#g)"/><circle cx="-1.7" cy="-1.6" r="2.5" fill="url(#h)"/></g>
<g transform="translate(580.03 492.10)" stroke="none"><circle r="5" fill="url(#g)"/><circle cx="-1.7" cy="-1.6" r="2.5" fill="url(#h)"/></g>
<g transform="translate(584.47 492.10)" stroke="none"><circle r="5" fill="url(#g)"/><circle cx="-1.7" cy="-1.6" r="2.5" fill="url(#h)"/></g>
<g transform="translate(588.90 492.10)" stroke="none"><circle r="5" fill="url(#g)"/><circle cx="-1.7" cy="-1.6" r="2.5" fill="url(#h)"/></g>
<g transform="translate(647.70 492.40)" stroke="none"><circle r="5" fill="url(#g)"/><circle cx="-1.7" cy="-1.6" r="2.5" fill="url(#h)"/></g>
<g transform="translate(651.60 492.40)" stroke="none"><circle r="5" fill="url(#g)"/><circle cx="-1.7" cy="-1.6" r="2.5" fill="url(#h)"/></g>
<g transform="translate(84.70 496.00)" stroke="none"><circle r="5" fill="url(#g)"/><circle cx="-1.7" cy="-1.6" r="2.5" fill="url(#h)"/></g>
<g transform="translate(90.50 496.00)" stroke="none"><circle r="5" fill="url(#g)"/><circle cx="-1.7" cy="-1.6" r="2.5" fill="url(#h)"/></g>
<g transform="translate(220.70 496.00)" stroke="none"><circle r="5" fill="url(#g)"/><circle cx="-1.7" cy="-1.6" r="2.5" fill="url(#h)"/></g>
<g transform="translate(225.85 496.00)" stroke="none"><circle r="5" fill="url(#g)"/><circle cx="-1.7" cy="-1.6" r="2.5" fill="url(#h)"/></g>
<g transform="translate(231.00 496.00)" stroke="none"><circle r="5" fill="url(#g)"/><circle cx="-1.7" cy="-1.6" r="2.5" fill="url(#h)"/></g>
<g transform="translate(289.90 496.00)" stroke="none"><circle r="5" fill="url(#g)"/><circle cx="-1.7" cy="-1.6" r="2.5" fill="url(#h)"/></g>
<g transform="translate(294.10 496.00)" stroke="none"><circle r="5" fill="url(#g)"/><circle cx="-1.7" cy="-1.6" r="2.5" fill="url(#h)"/></g>
<g transform="translate(150.50 496.20)" stroke="none"><circle r="5" fill="url(#g)"/><circle cx="-1.7" cy="-1.6" r="2.5" fill="url(#h)"/></g>
<g transform="translate(154.30 496.20)" stroke="none"><circle r="5" fill="url(#g)"/><circle cx="-1.7" cy="-1.6" r="2.5" fill="url(#h)"/></g>
<g transform="translate(84.20 533.30)" stroke="none"><circle r="5" fill="url(#g)"/><circle cx="-1.7" cy="-1.6" r="2.5" fill="url(#h)"/></g>
<g transform="translate(155.50 533.30)" stroke="none"><circle r="5" fill="url(#g)"/><circle cx="-1.7" cy="-1.6" r="2.5" fill="url(#h)"/></g>
<g transform="translate(220.70 533.30)" stroke="none"><circle r="5" fill="url(#g)"/><circle cx="-1.7" cy="-1.6" r="2.5" fill="url(#h)"/></g>
<g transform="translate(227.50 533.30)" stroke="none"><circle r="5" fill="url(#g)"/><circle cx="-1.7" cy="-1.6" r="2.5" fill="url(#h)"/></g>
<g transform="translate(511.20 533.60)" stroke="none"><circle r="5" fill="url(#g)"/><circle cx="-1.7" cy="-1.6" r="2.5" fill="url(#h)"/></g>
<g transform="translate(513.40 533.60)" stroke="none"><circle r="5" fill="url(#g)"/><circle cx="-1.7" cy="-1.6" r="2.5" fill="url(#h)"/></g>
<g transform="translate(442.00 533.70)" stroke="none"><circle r="5" fill="url(#g)"/><circle cx="-1.7" cy="-1.6" r="2.5" fill="url(#h)"/></g>
<g transform="translate(445.90 533.70)" stroke="none"><circle r="5" fill="url(#g)"/><circle cx="-1.7" cy="-1.6" r="2.5" fill="url(#h)"/></g>
<g transform="translate(578.00 533.90)" stroke="none"><circle r="5" fill="url(#g)"/><circle cx="-1.7" cy="-1.6" r="2.5" fill="url(#h)"/></g>
<g transform="translate(581.70 533.90)" stroke="none"><circle r="5" fill="url(#g)"/><circle cx="-1.7" cy="-1.6" r="2.5" fill="url(#h)"/></g>
<g transform="translate(585.40 533.90)" stroke="none"><circle r="5" fill="url(#g)"/><circle cx="-1.7" cy="-1.6" r="2.5" fill="url(#h)"/></g>
<g transform="translate(647.20 533.90)" stroke="none"><circle r="5" fill="url(#g)"/><circle cx="-1.7" cy="-1.6" r="2.5" fill="url(#h)"/></g>
<g transform="translate(152.00 592.10)" stroke="none"><circle r="5" fill="url(#g)"/><circle cx="-1.7" cy="-1.6" r="2.5" fill="url(#h)"/></g>
<g transform="translate(158.50 592.10)" stroke="none"><circle r="5" fill="url(#g)"/><circle cx="-1.7" cy="-1.6" r="2.5" fill="url(#h)"/></g>
<g transform="translate(289.00 592.10)" stroke="none"><circle r="5" fill="url(#g)"/><circle cx="-1.7" cy="-1.6" r="2.5" fill="url(#h)"/></g>
<g transform="translate(295.00 592.10)" stroke="none"><circle r="5" fill="url(#g)"/><circle cx="-1.7" cy="-1.6" r="2.5" fill="url(#h)"/></g>
<g transform="translate(648.00 597.90)" stroke="none"><circle r="5" fill="url(#g)"/><circle cx="-1.7" cy="-1.6" r="2.5" fill="url(#h)"/></g>
<g transform="translate(652.70 597.90)" stroke="none"><circle r="5" fill="url(#g)"/><circle cx="-1.7" cy="-1.6" r="2.5" fill="url(#h)"/></g>
<g transform="translate(442.10 598.00)" stroke="none"><circle r="5" fill="url(#g)"/><circle cx="-1.7" cy="-1.6" r="2.5" fill="url(#h)"/></g>
<g transform="translate(508.60 598.10)" stroke="none"><circle r="5" fill="url(#g)"/><circle cx="-1.7" cy="-1.6" r="2.5" fill="url(#h)"/></g>
<g transform="translate(512.60 598.10)" stroke="none"><circle r="5" fill="url(#g)"/><circle cx="-1.7" cy="-1.6" r="2.5" fill="url(#h)"/></g>
<g transform="translate(516.60 598.10)" stroke="none"><circle r="5" fill="url(#g)"/><circle cx="-1.7" cy="-1.6" r="2.5" fill="url(#h)"/></g>
<g transform="translate(580.30 598.50)" stroke="none"><circle r="5" fill="url(#g)"/><circle cx="-1.7" cy="-1.6" r="2.5" fill="url(#h)"/></g>
<g transform="translate(438.00 616.10)" stroke="none"><circle r="5" fill="url(#g)"/><circle cx="-1.7" cy="-1.6" r="2.5" fill="url(#h)"/></g>
<g transform="translate(444.20 616.10)" stroke="none"><circle r="5" fill="url(#g)"/><circle cx="-1.7" cy="-1.6" r="2.5" fill="url(#h)"/></g>
<g transform="translate(511.20 616.20)" stroke="none"><circle r="5" fill="url(#g)"/><circle cx="-1.7" cy="-1.6" r="2.5" fill="url(#h)"/></g>
<g transform="translate(647.40 616.30)" stroke="none"><circle r="5" fill="url(#g)"/><circle cx="-1.7" cy="-1.6" r="2.5" fill="url(#h)"/></g>
<g transform="translate(652.60 616.30)" stroke="none"><circle r="5" fill="url(#g)"/><circle cx="-1.7" cy="-1.6" r="2.5" fill="url(#h)"/></g>
<g transform="translate(574.30 616.60)" stroke="none"><circle r="5" fill="url(#g)"/><circle cx="-1.7" cy="-1.6" r="2.5" fill="url(#h)"/></g>
<g transform="translate(580.40 616.60)" stroke="none"><circle r="5" fill="url(#g)"/><circle cx="-1.7" cy="-1.6" r="2.5" fill="url(#h)"/></g>
<g transform="translate(438.60 633.80)" stroke="none"><circle r="5" fill="url(#g)"/><circle cx="-1.7" cy="-1.6" r="2.5" fill="url(#h)"/></g>
<g transform="translate(445.00 633.80)" stroke="none"><circle r="5" fill="url(#g)"/><circle cx="-1.7" cy="-1.6" r="2.5" fill="url(#h)"/></g>
<g transform="translate(508.50 633.80)" stroke="none"><circle r="5" fill="url(#g)"/><circle cx="-1.7" cy="-1.6" r="2.5" fill="url(#h)"/></g>
<g transform="translate(647.40 634.00)" stroke="none"><circle r="5" fill="url(#g)"/><circle cx="-1.7" cy="-1.6" r="2.5" fill="url(#h)"/></g>
<g transform="translate(652.60 634.00)" stroke="none"><circle r="5" fill="url(#g)"/><circle cx="-1.7" cy="-1.6" r="2.5" fill="url(#h)"/></g>
<g transform="translate(82.20 643.70)" stroke="none"><circle r="5" fill="url(#g)"/><circle cx="-1.7" cy="-1.6" r="2.5" fill="url(#h)"/></g>
<g transform="translate(150.70 643.70)" stroke="none"><circle r="5" fill="url(#g)"/><circle cx="-1.7" cy="-1.6" r="2.5" fill="url(#h)"/></g>
<g transform="translate(154.20 643.70)" stroke="none"><circle r="5" fill="url(#g)"/><circle cx="-1.7" cy="-1.6" r="2.5" fill="url(#h)"/></g>
<g transform="translate(294.60 643.70)" stroke="none"><circle r="5" fill="url(#g)"/><circle cx="-1.7" cy="-1.6" r="2.5" fill="url(#h)"/></g>
<g transform="translate(440.10 651.90)" stroke="none"><circle r="5" fill="url(#g)"/><circle cx="-1.7" cy="-1.6" r="2.5" fill="url(#h)"/></g>
<g transform="translate(575.60 652.00)" stroke="none"><circle r="5" fill="url(#g)"/><circle cx="-1.7" cy="-1.6" r="2.5" fill="url(#h)"/></g>
<g transform="translate(582.00 652.00)" stroke="none"><circle r="5" fill="url(#g)"/><circle cx="-1.7" cy="-1.6" r="2.5" fill="url(#h)"/></g>
<g transform="translate(511.40 652.30)" stroke="none"><circle r="5" fill="url(#g)"/><circle cx="-1.7" cy="-1.6" r="2.5" fill="url(#h)"/></g>
<g transform="translate(647.90 652.30)" stroke="none"><circle r="5" fill="url(#g)"/><circle cx="-1.7" cy="-1.6" r="2.5" fill="url(#h)"/></g>
<g transform="translate(651.90 652.30)" stroke="none"><circle r="5" fill="url(#g)"/><circle cx="-1.7" cy="-1.6" r="2.5" fill="url(#h)"/></g>
<g transform="translate(509.60 670.10)" stroke="none"><circle r="5" fill="url(#g)"/><circle cx="-1.7" cy="-1.6" r="2.5" fill="url(#h)"/></g>
<g transform="translate(512.30 670.10)" stroke="none"><circle r="5" fill="url(#g)"/><circle cx="-1.7" cy="-1.6" r="2.5" fill="url(#h)"/></g>
<g transform="translate(579.80 670.20)" stroke="none"><circle r="5" fill="url(#g)"/><circle cx="-1.7" cy="-1.6" r="2.5" fill="url(#h)"/></g>
<g transform="translate(440.00 670.30)" stroke="none"><circle r="5" fill="url(#g)"/><circle cx="-1.7" cy="-1.6" r="2.5" fill="url(#h)"/></g>
<g transform="translate(443.50 670.30)" stroke="none"><circle r="5" fill="url(#g)"/><circle cx="-1.7" cy="-1.6" r="2.5" fill="url(#h)"/></g>
<g transform="translate(447.00 670.30)" stroke="none"><circle r="5" fill="url(#g)"/><circle cx="-1.7" cy="-1.6" r="2.5" fill="url(#h)"/></g>
<g transform="translate(649.00 670.50)" stroke="none"><circle r="5" fill="url(#g)"/><circle cx="-1.7" cy="-1.6" r="2.5" fill="url(#h)"/></g>
<g transform="translate(579.00 688.10)" stroke="none"><circle r="5" fill="url(#g)"/><circle cx="-1.7" cy="-1.6" r="2.5" fill="url(#h)"/></g>
<g transform="translate(585.40 688.10)" stroke="none"><circle r="5" fill="url(#g)"/><circle cx="-1.7" cy="-1.6" r="2.5" fill="url(#h)"/></g>
<g transform="translate(444.50 688.40)" stroke="none"><circle r="5" fill="url(#g)"/><circle cx="-1.7" cy="-1.6" r="2.5" fill="url(#h)"/></g>
<g transform="translate(648.30 689.00)" stroke="none"><circle r="5" fill="url(#g)"/><circle cx="-1.7" cy="-1.6" r="2.5" fill="url(#h)"/></g>
<g transform="translate(217.20 695.70)" stroke="none"><circle r="5" fill="url(#g)"/><circle cx="-1.7" cy="-1.6" r="2.5" fill="url(#h)"/></g>
<g transform="translate(221.80 695.70)" stroke="none"><circle r="5" fill="url(#g)"/><circle cx="-1.7" cy="-1.6" r="2.5" fill="url(#h)"/></g>
<g transform="translate(226.40 695.70)" stroke="none"><circle r="5" fill="url(#g)"/><circle cx="-1.7" cy="-1.6" r="2.5" fill="url(#h)"/></g>
<g transform="translate(231.00 695.70)" stroke="none"><circle r="5" fill="url(#g)"/><circle cx="-1.7" cy="-1.6" r="2.5" fill="url(#h)"/></g>
<g transform="translate(289.00 695.70)" stroke="none"><circle r="5" fill="url(#g)"/><circle cx="-1.7" cy="-1.6" r="2.5" fill="url(#h)"/></g>
<g transform="translate(295.80 695.70)" stroke="none"><circle r="5" fill="url(#g)"/><circle cx="-1.7" cy="-1.6" r="2.5" fill="url(#h)"/></g>
<g transform="translate(79.80 695.90)" stroke="none"><circle r="5" fill="url(#g)"/><circle cx="-1.7" cy="-1.6" r="2.5" fill="url(#h)"/></g>
<g transform="translate(84.70 695.90)" stroke="none"><circle r="5" fill="url(#g)"/><circle cx="-1.7" cy="-1.6" r="2.5" fill="url(#h)"/></g>
<g transform="translate(89.60 695.90)" stroke="none"><circle r="5" fill="url(#g)"/><circle cx="-1.7" cy="-1.6" r="2.5" fill="url(#h)"/></g>
<g transform="translate(150.70 695.90)" stroke="none"><circle r="5" fill="url(#g)"/><circle cx="-1.7" cy="-1.6" r="2.5" fill="url(#h)"/></g>
<g transform="translate(154.60 695.90)" stroke="none"><circle r="5" fill="url(#g)"/><circle cx="-1.7" cy="-1.6" r="2.5" fill="url(#h)"/></g>
<g transform="translate(158.50 695.90)" stroke="none"><circle r="5" fill="url(#g)"/><circle cx="-1.7" cy="-1.6" r="2.5" fill="url(#h)"/></g>
<g transform="translate(443.70 706.50)" stroke="none"><circle r="5" fill="url(#g)"/><circle cx="-1.7" cy="-1.6" r="2.5" fill="url(#h)"/></g>
<g transform="translate(579.00 706.80)" stroke="none"><circle r="5" fill="url(#g)"/><circle cx="-1.7" cy="-1.6" r="2.5" fill="url(#h)"/></g>
<g transform="translate(584.00 706.80)" stroke="none"><circle r="5" fill="url(#g)"/><circle cx="-1.7" cy="-1.6" r="2.5" fill="url(#h)"/></g>
<g transform="translate(589.00 706.80)" stroke="none"><circle r="5" fill="url(#g)"/><circle cx="-1.7" cy="-1.6" r="2.5" fill="url(#h)"/></g>
<g transform="translate(442.50 724.60)" stroke="none"><circle r="5" fill="url(#g)"/><circle cx="-1.7" cy="-1.6" r="2.5" fill="url(#h)"/></g>
<g transform="translate(512.60 724.60)" stroke="none"><circle r="5" fill="url(#g)"/><circle cx="-1.7" cy="-1.6" r="2.5" fill="url(#h)"/></g>
<g transform="translate(579.20 725.00)" stroke="none"><circle r="5" fill="url(#g)"/><circle cx="-1.7" cy="-1.6" r="2.5" fill="url(#h)"/></g>
<rect x="84.30" y="90.60" width="3.2" height="3.2" fill="#fff" stroke="#555" stroke-width="0.9"/>
<rect x="152.50" y="86.20" width="3.2" height="3.2" fill="#fff" stroke="#555" stroke-width="0.9"/>
<rect x="289.10" y="88.50" width="3.2" height="3.2" fill="#fff" stroke="#555" stroke-width="0.9"/>
<rect x="84.40" y="285.90" width="3.2" height="3.2" fill="#fff" stroke="#555" stroke-width="0.9"/>
<rect x="152.50" y="277.00" width="3.2" height="3.2" fill="#fff" stroke="#555" stroke-width="0.9"/>
<rect x="220.80" y="278.70" width="3.2" height="3.2" fill="#fff" stroke="#555" stroke-width="0.9"/>
<rect x="289.00" y="269.10" width="3.2" height="3.2" fill="#fff" stroke="#555" stroke-width="0.9"/>
<rect x="84.30" y="462.80" width="3.2" height="3.2" fill="#fff" stroke="#555" stroke-width="0.9"/>
<rect x="152.50" y="450.80" width="3.2" height="3.2" fill="#fff" stroke="#555" stroke-width="0.9"/>
<rect x="220.80" y="485.80" width="3.2" height="3.2" fill="#fff" stroke="#555" stroke-width="0.9"/>
<rect x="289.10" y="444.60" width="3.2" height="3.2" fill="#fff" stroke="#555" stroke-width="0.9"/>
<rect x="152.50" y="654.40" width="3.2" height="3.2" fill="#fff" stroke="#555" stroke-width="0.9"/>
<rect x="289.10" y="677.30" width="3.2" height="3.2" fill="#fff" stroke="#555" stroke-width="0.9"/>
<rect x="441.70" y="135.20" width="3.2" height="3.2" fill="#fff" stroke="#555" stroke-width="0.9"/>
<rect x="578.20" y="148.80" width="3.2" height="3.2" fill="#fff" stroke="#555" stroke-width="0.9"/>
<rect x="646.50" y="129.20" width="3.2" height="3.2" fill="#fff" stroke="#555" stroke-width="0.9"/>
<rect x="510.00" y="299.10" width="3.2" height="3.2" fill="#fff" stroke="#555" stroke-width="0.9"/>
<rect x="578.20" y="326.60" width="3.2" height="3.2" fill="#fff" stroke="#555" stroke-width="0.9"/>
<rect x="646.50" y="306.40" width="3.2" height="3.2" fill="#fff" stroke="#555" stroke-width="0.9"/>
<rect x="441.70" y="485.60" width="3.2" height="3.2" fill="#fff" stroke="#555" stroke-width="0.9"/>
<rect x="510.50" y="472.40" width="3.2" height="3.2" fill="#fff" stroke="#555" stroke-width="0.9"/>
<rect x="578.20" y="496.10" width="3.2" height="3.2" fill="#fff" stroke="#555" stroke-width="0.9"/>
<rect x="646.50" y="458.40" width="3.2" height="3.2" fill="#fff" stroke="#555" stroke-width="0.9"/>
<rect x="510.40" y="625.70" width="3.2" height="3.2" fill="#fff" stroke="#555" stroke-width="0.9"/>
<rect x="578.10" y="681.00" width="3.2" height="3.2" fill="#fff" stroke="#555" stroke-width="0.9"/>
</g>
</svg>
</body></html>
